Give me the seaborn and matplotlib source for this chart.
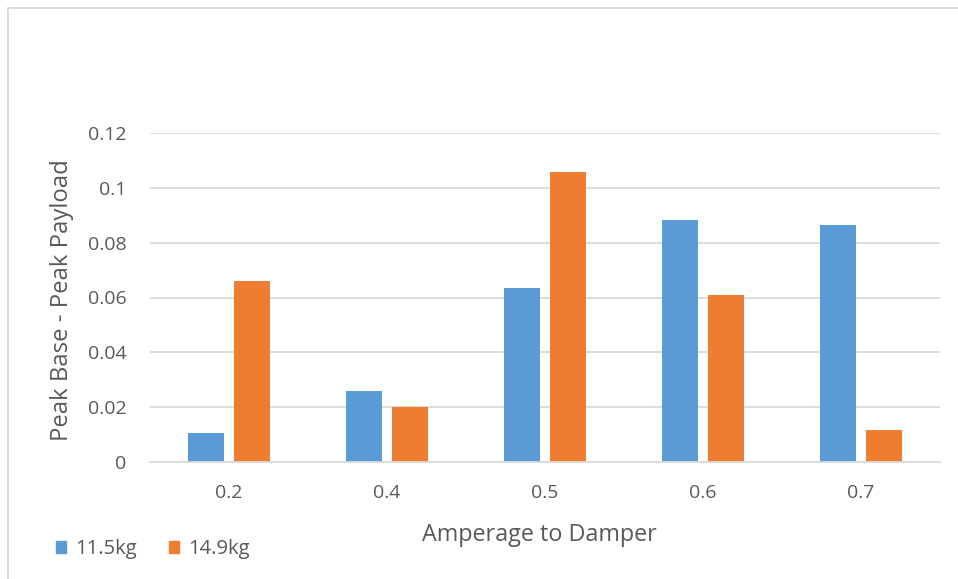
import matplotlib
matplotlib.use("Agg")
import matplotlib.pyplot as plt
import seaborn as sns
import pandas as pd
from matplotlib.patches import Rectangle

# Peak difference per damper current, for two payload masses
amperage = ["0.2", "0.4", "0.5", "0.6", "0.7"]
mass_115 = [0.0104, 0.0258, 0.0633, 0.0884, 0.0865]
mass_149 = [0.0662, 0.0199, 0.1056, 0.0610, 0.0118]
series_names = ["11.5kg", "14.9kg"]
y_ticks = [0, 0.02, 0.04, 0.06, 0.08, 0.1, 0.12]
y_tick_labels = ["0", "0.02", "0.04", "0.06", "0.08", "0.1", "0.12"]

df = pd.DataFrame({
    "amperage": amperage * 2,
    "value": mass_115 + mass_149,
    "series": [series_names[0]] * len(amperage) + [series_names[1]] * len(amperage),
})

sns.set_theme(style="white")
plt.rcParams["font.family"] = ["Open Sans", "DejaVu Sans"]
text_color = "#595959"
grid_color = "#d9d9d9"
colors = ["#5b9bd5", "#ed7d31"]

fig = plt.figure(figsize=(9.58, 5.79), dpi=100)
W, H = 958, 579
ax = fig.add_axes([150 / W, 1 - 462 / H, 790 / W, (462 - 133) / H])

sns.barplot(
    data=df, x="amperage", y="value", hue="series", order=amperage,
    palette=colors, width=0.57, gap=0.2,
    saturation=1, ax=ax, legend=False, edgecolor="none",
)

ax.set_ylim(0, 0.12)
ax.set_xlim(-0.5, len(amperage) - 0.5)
ax.set_yticks(y_ticks)
ax.set_yticklabels(y_tick_labels)
ax.yaxis.grid(True, color=grid_color, linewidth=1.3)
ax.set_axisbelow(True)
for side in ["top", "right", "left"]:
    ax.spines[side].set_visible(False)
ax.spines["bottom"].set_color(grid_color)
ax.spines["bottom"].set_linewidth(1.3)
ax.tick_params(axis="y", length=0, pad=17, labelsize=14, labelcolor=text_color)
ax.tick_params(axis="x", length=0, pad=16, labelsize=14, labelcolor=text_color)

ax.set_xlabel("Amperage to Damper", fontsize=16.8, color=text_color, va="center")
ax.set_ylabel("Peak Base - Peak Payload", fontsize=17.2, color=text_color, va="center")
ax.xaxis.set_label_coords((539.5 - 150) / 790, -(535 - 462) / 329)
ax.yaxis.set_label_coords(-(150 - 62) / 790, (462 - 300) / 329)

# legend entries at the lower left
handles = [Rectangle((0, 0), 1, 1, color=c) for c in colors]
fig.legend(handles, series_names, loc="center left",
           bbox_to_anchor=(38 / W, 1 - 549 / H), ncol=2, frameon=False,
           fontsize=14.5, labelcolor=text_color, handlelength=0.5,
           handleheight=0.5, handletextpad=0.45, columnspacing=1.6)

# outer chart frame
fig.patches.append(Rectangle((8 / W, -0.05), 1.2, 1 - 8 / H + 0.05,
                             transform=fig.transFigure, fill=False,
                             edgecolor="#d9d9d9", linewidth=1.3))

fig.savefig("out.png", dpi=100, facecolor="white")
